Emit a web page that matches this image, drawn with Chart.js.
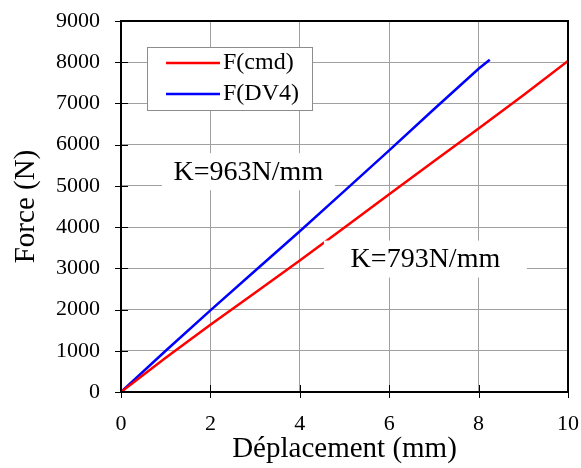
<!DOCTYPE html>
<html>
<head>
<meta charset="utf-8">
<script src="https://cdn.jsdelivr.net/npm/chart.js@4"></script>
<style>
  html, body { margin: 0; padding: 0; background: #fff; }
  #wrap { width: 581px; height: 468px; }
</style>
</head>
<body>
<div id="wrap"><canvas id="c" width="581" height="468"></canvas></div>
<script>
// --- Data ---
const cmdX = [0, 1, 2, 3, 4, 5, 6, 7, 8, 9, 10];
const cmdY = [0, 830, 1630, 2410, 3190, 3990, 4800, 5600, 6390, 7200, 8030];
const dv4X = [0, 1, 2, 3, 4, 5, 6, 7, 8, 8.25];
const dv4Y = [0, 1000, 1980, 2940, 3900, 4880, 5860, 6860, 7840, 8060];

const seriesNames = ['F(cmd)', 'F(DV4)'];
const seriesColors = ['#ff0000', '#0000ff'];

// stiffness labels (text + anchor in data units)
const kTexts = ['K=963N/mm', 'K=793N/mm'];
const kX = [2.85, 6.81];
const kY = [5320, 3200];

const FONT = "'Liberation Serif', 'Times New Roman', serif";

const toPoints = (xs, ys) => xs.map((x, i) => ({ x, y: ys[i] }));

// frame + tick marks crossing the axes
const framePlugin = {
    id: 'frame',
    afterDatasetsDraw(chart) {
        const { ctx, chartArea: a, scales } = chart;
        ctx.save();
        ctx.strokeStyle = '#000';
        ctx.lineWidth = 1;
        ctx.beginPath();
        scales.x.ticks.forEach(t => {
            const px = Math.round(scales.x.getPixelForValue(t.value)) + 0.5;
            ctx.moveTo(px, a.bottom + 6);
            ctx.lineTo(px, a.bottom - 7);
        });
        scales.y.ticks.forEach(t => {
            const py = Math.round(scales.y.getPixelForValue(t.value)) + 0.5;
            ctx.moveTo(a.left - 6, py);
            ctx.lineTo(a.left + 7, py);
        });
        ctx.stroke();
        ctx.lineWidth = 2;
        ctx.strokeRect(a.left, a.top, a.right - a.left, a.bottom - a.top);
        ctx.restore();
    }
};

// K labels with white boxes over the grid
const kLabelPlugin = {
    id: 'kLabels',
    afterDatasetsDraw(chart, args, opts) {
        const { ctx, scales } = chart;
        ctx.save();
        ctx.font = `28px ${FONT}`;
        ctx.textAlign = 'center';
        ctx.textBaseline = 'middle';
        kTexts.forEach((txt, i) => {
            const px = scales.x.getPixelForValue(kX[i]);
            const py = scales.y.getPixelForValue(kY[i]);
            const w = opts.boxWidths[i];
            const h = 37;
            ctx.fillStyle = '#fff';
            ctx.fillRect(px - w / 2, py - h / 2 - 1, w, h);
            ctx.fillStyle = '#000';
            ctx.fillText(txt, px, py);
        });
        ctx.restore();
    }
};

// legend box inside plot area
const boxLegendPlugin = {
    id: 'boxLegend',
    afterDatasetsDraw(chart) {
        const { ctx, chartArea: a } = chart;
        const bx = a.left + 26, by = a.top + 26, bw = 165, bh = 63;
        ctx.save();
        ctx.fillStyle = '#fff';
        ctx.fillRect(bx, by, bw, bh);
        ctx.strokeStyle = '#8c8c8c';
        ctx.lineWidth = 1;
        ctx.strokeRect(bx + 0.5, by + 0.5, bw, bh);
        ctx.font = `24px ${FONT}`;
        ctx.textBaseline = 'middle';
        chart.data.datasets.forEach((ds, i) => {
            const ly = by + 16 + i * 31;
            ctx.strokeStyle = ds.borderColor;
            ctx.lineWidth = 2.5;
            ctx.beginPath();
            ctx.moveTo(bx + 19, ly);
            ctx.lineTo(bx + 73, ly);
            ctx.stroke();
            ctx.fillStyle = '#000';
            ctx.fillText(ds.label, bx + 76, ly);
        });
        ctx.restore();
    }
};

const noTick = 'rgba(0,0,0,0)';

new Chart(document.getElementById('c'), {
    type: 'scatter',
    data: {
        datasets: [
            { label: seriesNames[0], data: toPoints(cmdX, cmdY), borderColor: seriesColors[0], backgroundColor: seriesColors[0] },
            { label: seriesNames[1], data: toPoints(dv4X, dv4Y), borderColor: seriesColors[1], backgroundColor: seriesColors[1] }
        ].map(ds => ({ ...ds, showLine: true, pointRadius: 0, borderWidth: 2.5, tension: 0 }))
    },
    options: {
        responsive: false,
        animation: false,
        layout: { padding: { top: 21, right: 13, left: 0, bottom: 0 } },
        plugins: {
            legend: { display: false },
            tooltip: { enabled: false },
            kLabels: { boxWidths: [173, 203] }
        },
        scales: {
            x: {
                type: 'linear',
                min: 0, max: 10,
                ticks: { stepSize: 2, color: '#000', padding: 0, font: { family: FONT, size: 22 }, callback: v => String(v) },
                grid: { color: '#a0a0a0', lineWidth: 1, tickLength: 19, tickColor: noTick },
                border: { color: '#000', width: 2 },
                title: { display: true, text: 'Déplacement (mm)', color: '#000', font: { family: FONT, size: 29 }, padding: { top: 0, bottom: 1 } },
                afterFit: s => { s.height = 76; }
            },
            y: {
                min: 0, max: 9000,
                ticks: { stepSize: 1000, color: '#000', padding: 0, font: { family: FONT, size: 22 }, callback: v => String(v) },
                grid: { color: '#a0a0a0', lineWidth: 1, tickLength: 21, tickColor: noTick },
                border: { color: '#000', width: 2 },
                title: { display: true, text: 'Force (N)', color: '#000', font: { family: FONT, size: 29 }, padding: { top: 9, bottom: 0 } },
                afterFit: s => { s.width = 121; }
            }
        }
    },
    plugins: [framePlugin, kLabelPlugin, boxLegendPlugin]
});
</script>
</body>
</html>
